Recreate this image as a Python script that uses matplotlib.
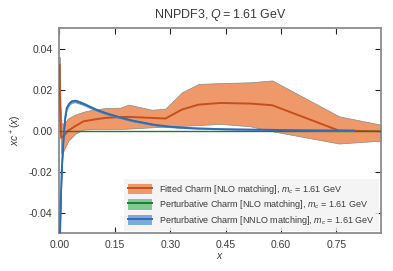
import matplotlib
matplotlib.use("Agg")
import matplotlib.pyplot as plt
from matplotlib.patches import Patch
from matplotlib.lines import Line2D
import numpy as np

# fitted charm (NLO matching)
fit_x = [0.0005, 0.002, 0.005, 0.011, 0.024, 0.043, 0.065, 0.09, 0.124, 0.165,
         0.187, 0.25, 0.287, 0.332, 0.377, 0.436, 0.517, 0.576, 0.757, 0.87]
fit_c = [0.032, 0.012, -0.0035, -0.0028, 0.0, 0.0022, 0.0045, 0.0053, 0.0062, 0.0066,
         0.0067, 0.0062, 0.0059, 0.0103, 0.0127, 0.0135, 0.0132, 0.0124, 0.0, -0.0003]
fit_up = [0.036, 0.020, 0.004, 0.003, 0.006, 0.0078, 0.0092, 0.0102, 0.011, 0.0112,
          0.0127, 0.0102, 0.0107, 0.0187, 0.0228, 0.0232, 0.0236, 0.0245, 0.0070, 0.0029]
fit_lo = [0.026, 0.004, -0.011, -0.0100, -0.005, -0.0015, 0.0005, 0.0007, 0.0007, 0.0008,
          0.0010, 0.0016, 0.0019, 0.0023, 0.0027, 0.0033, 0.0021, -0.0003, -0.0063, -0.0049]

# perturbative charm, NNLO matching
nnlo_x = [0.001, 0.002, 0.003, 0.0046, 0.0065, 0.0083, 0.0105, 0.0127, 0.016, 0.02,
          0.027, 0.034, 0.043, 0.052, 0.07, 0.079, 0.1, 0.124, 0.165, 0.2,
          0.255, 0.3, 0.346, 0.42, 0.517, 0.6, 0.7, 0.797]
nnlo_c = [-0.075, -0.05, -0.04, -0.0296, -0.02, -0.0133, -0.006, 0.0, 0.0065, 0.011,
          0.0132, 0.0143, 0.0145, 0.014, 0.0127, 0.0119, 0.0102, 0.0086, 0.0064, 0.0048,
          0.0029, 0.0019, 0.0013, 0.0008, 0.0005, 0.0003, 0.0001, 0.0]
nnlo_err = [0.002, 0.0015, 0.0012, 0.001, 0.0009, 0.0008, 0.0007, 0.0007, 0.0007, 0.0007,
            0.0007, 0.0007, 0.0007, 0.0007, 0.0006, 0.0006, 0.0005, 0.0005, 0.0004, 0.0004,
            0.0003, 0.0003, 0.0002, 0.0002, 0.0002, 0.0001, 0.0001, 0.0001]

# perturbative charm, NLO matching (vanishes at Q = mc)
nlo_x = [0.001, 0.87]
nlo_c = [0.0, 0.0]

orange_fill, orange_line = "#ef9869", "#c4501d"
green_fill, green_line = "#7fc98f", "#1f7a3a"
blue_fill, blue_line = "#7aaad8", "#2f6db2"

plt.rcParams["font.family"] = "Liberation Sans"
plt.rcParams["mathtext.fontset"] = "custom"
plt.rcParams["mathtext.rm"] = "Liberation Sans"
plt.rcParams["mathtext.it"] = "Liberation Sans:italic"
txt = "#3a3a3a"

fig = plt.figure(figsize=(3.93, 2.71), dpi=100)
ax = fig.add_axes([0.151, 0.140, 0.818, 0.756])

fx = np.array(fit_x)
ax.fill_between(fx, fit_lo, fit_up, facecolor=orange_fill, edgecolor="#888888",
                linewidth=0.5, zorder=2)
ax.plot(fx, fit_c, color=orange_line, lw=1.4, zorder=3)

ax.plot(nlo_x, nlo_c, color=green_line, lw=1.0, zorder=4)

nc = np.array(nnlo_c)
ne = np.array(nnlo_err)
ax.fill_between(nnlo_x, nc - ne, nc + ne, facecolor=blue_fill, edgecolor="#4a7fb8",
                linewidth=0.4, zorder=5)
ax.plot(nnlo_x, nnlo_c, color=blue_line, lw=1.4, zorder=6)

ax.set_xlim(0, 0.87)
ax.set_ylim(-0.05, 0.05)
ax.set_xticks([0.0, 0.15, 0.30, 0.45, 0.60, 0.75])
ax.set_yticks([-0.04, -0.02, 0.0, 0.02, 0.04])
ax.xaxis.set_major_formatter(matplotlib.ticker.FormatStrFormatter("%.2f"))
ax.yaxis.set_major_formatter(matplotlib.ticker.FormatStrFormatter("%.2f"))
ax.tick_params(direction="in", length=4, width=0.8, top=True, right=True,
               labelsize=7.5, labelcolor=txt, color="#222222", pad=5)
for s in ax.spines.values():
    s.set_color("#8c8c8c")
    s.set_linewidth(1.3)

ax.set_title("NNPDF3, $Q = 1.61$ GeV", fontsize=9, color=txt, pad=7)
ax.set_xlabel("$x$", fontsize=7.5, color=txt, labelpad=1)
ax.set_ylabel("$xc^+(x)$", fontsize=7.5, color=txt, labelpad=3)

handles = [
    (Patch(facecolor=orange_fill, edgecolor="none"), Line2D([], [], color=orange_line, lw=1.4)),
    (Patch(facecolor=green_fill, edgecolor="none"), Line2D([], [], color=green_line, lw=1.4)),
    (Patch(facecolor=blue_fill, edgecolor="none"), Line2D([], [], color=blue_line, lw=1.4)),
]
labels = [
    "Fitted Charm [NLO matching], $m_c$ = 1.61 GeV",
    "Perturbative Charm [NLO matching], $m_c$ = 1.61 GeV",
    "Perturbative Charm [NNLO matching], $m_c$ = 1.61 GeV",
]
leg = ax.legend(handles, labels, loc="lower right", fontsize=6.5, frameon=True,
                handlelength=2.7, handleheight=1.4, labelspacing=0.3,
                borderaxespad=0.25, fancybox=False, labelcolor=txt)
leg.get_frame().set_facecolor("#f2f2f2")
leg.get_frame().set_edgecolor("none")
leg.set_zorder(10)

fig.savefig("out.png", dpi=100)
